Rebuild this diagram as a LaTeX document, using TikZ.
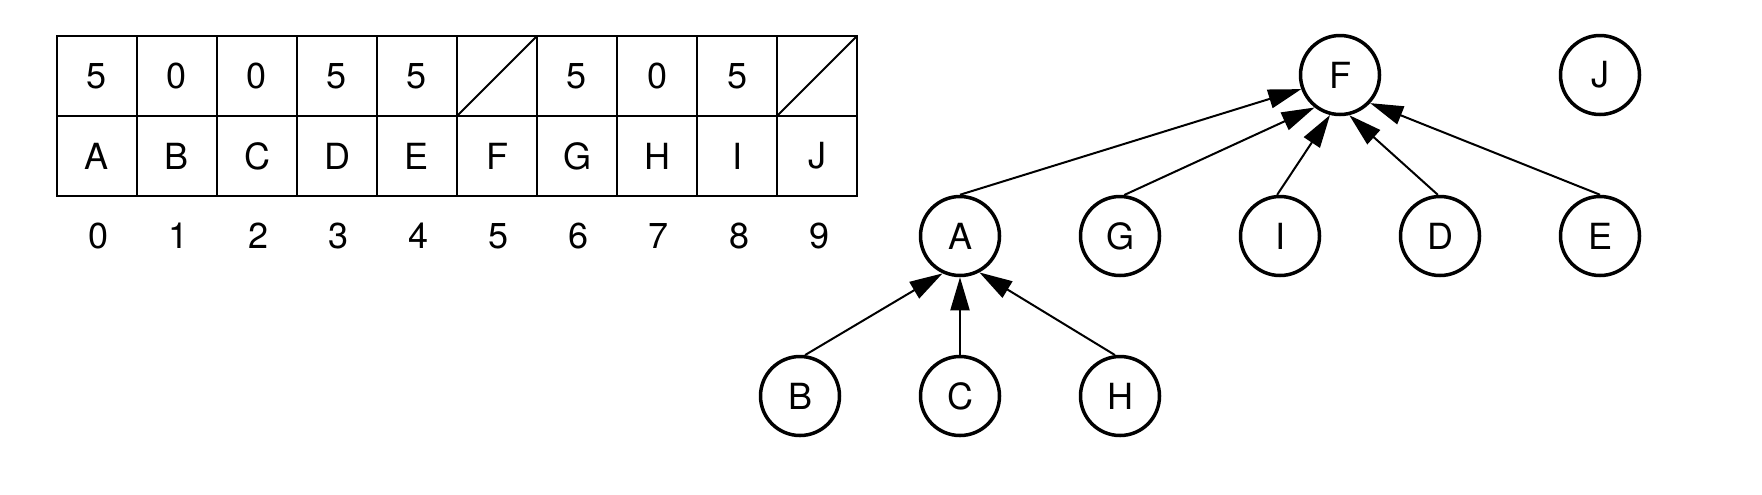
\documentclass[tikz,border=0pt]{standalone}
\usepackage{fontspec}
\setmainfont{TeX Gyre Heros}
\usetikzlibrary{arrows.meta}
\tikzset{
  cell/.style={draw, rectangle, line width=1pt, minimum width=40pt, minimum height=40pt, inner sep=0pt, outer sep=0pt},
  idx/.style={inner sep=0pt},
  vert/.style={draw, circle, line width=1.75pt, minimum size=39.5pt, inner sep=0pt},
  toparent/.style={line width=1pt, -{Triangle[length=16.5pt, width=9.5pt]}}
}

\begin{document}
\begin{tikzpicture}[x=0.5pt, y=-0.5pt, font=\fontsize{18}{20}\selectfont]
    \useasboundingbox (0,0) rectangle (1762,494);

    % Parent row of the array
    \node[cell] (v0) at (97,76) {5};
    \node[cell] (v1) at (177,76) {0};
    \node[cell] (v2) at (257,76) {0};
    \node[cell] (v3) at (337,76) {5};
    \node[cell] (v4) at (417,76) {5};
    \node[cell] (v5) at (497,76) {};
    \node[cell] (v6) at (577,76) {5};
    \node[cell] (v7) at (657,76) {0};
    \node[cell] (v8) at (737,76) {5};
    \node[cell] (v9) at (817,76) {};
    \draw[line width=1pt] (v5.south west) -- (v5.north east);
    \draw[line width=1pt] (v9.south west) -- (v9.north east);

    % Element row
    \node[cell] (k0) at (97,156) {A};
    \node[cell] (k1) at (177,156) {B};
    \node[cell] (k2) at (257,156) {C};
    \node[cell] (k3) at (337,156) {D};
    \node[cell] (k4) at (417,156) {E};
    \node[cell] (k5) at (497,156) {F};
    \node[cell] (k6) at (577,156) {G};
    \node[cell] (k7) at (657,156) {H};
    \node[cell] (k8) at (737,156) {I};
    \node[cell] (k9) at (817,156) {J};

    % Indices
    \node[idx] (i0) at (99,236) {0};
    \node[idx] (i1) at (179,236) {1};
    \node[idx] (i2) at (259,236) {2};
    \node[idx] (i3) at (339,236) {3};
    \node[idx] (i4) at (419,236) {4};
    \node[idx] (i5) at (499,236) {5};
    \node[idx] (i6) at (579,236) {6};
    \node[idx] (i7) at (659,236) {7};
    \node[idx] (i8) at (739,236) {8};
    \node[idx] (i9) at (819,236) {9};

    % Forest
    \node[vert] (F) at (1340,75) {F};
    \node[vert] (J) at (1600,75) {J};
    \node[vert] (A) at (960,236) {A};
    \node[vert] (G) at (1120,236) {G};
    \node[vert] (I) at (1280,236) {I};
    \node[vert] (D) at (1440,236) {D};
    \node[vert] (E) at (1600,236) {E};
    \node[vert] (B) at (800,396) {B};
    \node[vert] (C) at (960,396) {C};
    \node[vert] (H) at (1120,396) {H};

    % Links to the parent
    \draw[toparent] (A.north) -- (F.200);
    \draw[toparent] (G.84) -- (F.232);
    \draw[toparent] (I.94) -- (F.256);
    \draw[toparent] (D.93) -- (F.283);
    \draw[toparent] (E.north) -- (F.317);
    \draw[toparent] (B.83) -- (A.245);
    \draw[toparent] (C.north) -- (A.south);
    \draw[toparent] (H.97) -- (A.298);

\end{tikzpicture}
\end{document}
